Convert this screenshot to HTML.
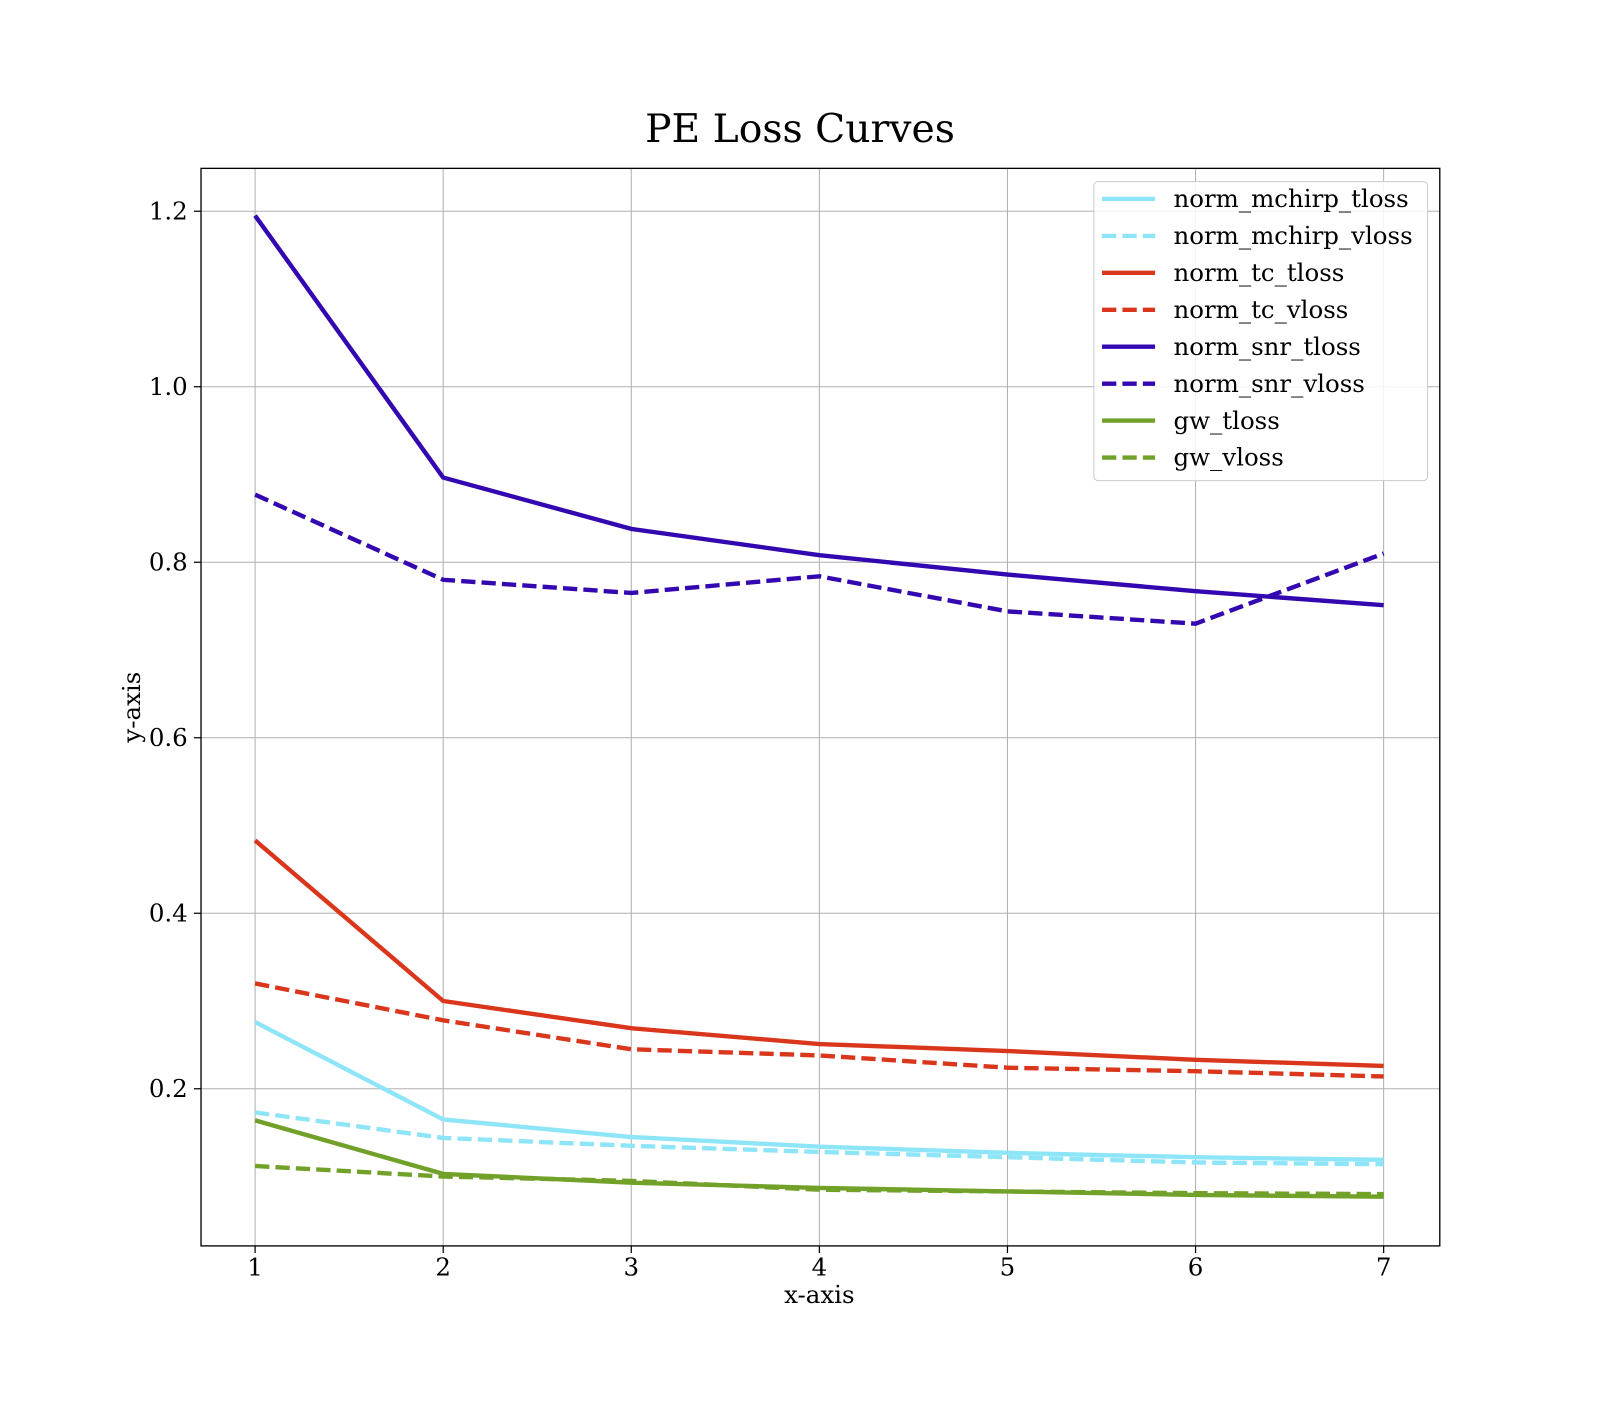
<!DOCTYPE html>
<html><head><meta charset="utf-8"><style>
body{margin:0;background:#fff;}
text{font-family:"DejaVu Serif","Liberation Serif",serif;fill:#000;}
</style></head><body>
<svg id="chart" width="1600" height="1400" xmlns="http://www.w3.org/2000/svg">
<rect width="1600" height="1400" fill="#fff"/>
<g transform="scale(1.0204)">
<text x="784" y="139" font-size="38.5" text-anchor="middle">PE Loss Curves</text>
<g id="grid"></g>
<g id="lines"></g>
<rect x="197" y="165" width="1214" height="1056" fill="none" stroke="#000" stroke-width="1.3"/>
<g id="ticks"></g>
<text x="803" y="1277" font-size="24" text-anchor="middle">x-axis</text>
<text transform="translate(137,693) rotate(-90)" font-size="24" text-anchor="middle">y-axis</text>
<g id="legend"></g>
</g>
</svg>
<script>
const epochs=[1,2,3,4,5,6,7];
const xTicks=[1,2,3,4,5,6,7];
const yTicks=[0.2,0.4,0.6,0.8,1.0,1.2];
const yTickLabels=["0.2","0.4","0.6","0.8","1.0","1.2"];
const seriesNames=["norm_mchirp_tloss","norm_mchirp_vloss","norm_tc_tloss","norm_tc_vloss","norm_snr_tloss","norm_snr_vloss","gw_tloss","gw_vloss"];
const mchirpT=[0.276,0.165,0.145,0.134,0.127,0.122,0.119];
const mchirpV=[0.173,0.144,0.135,0.128,0.122,0.116,0.114];
const tcT=[0.483,0.300,0.269,0.251,0.243,0.233,0.226];
const tcV=[0.320,0.278,0.245,0.238,0.224,0.220,0.214];
const snrT=[1.195,0.8965,0.838,0.808,0.786,0.767,0.751];
const snrV=[0.877,0.780,0.765,0.784,0.744,0.730,0.810];
const gwT=[0.164,0.103,0.093,0.087,0.083,0.079,0.077];
const gwV=[0.112,0.100,0.095,0.085,0.083,0.081,0.080];
const allSeries=[mchirpT,mchirpV,tcT,tcV,snrT,snrV,gwT,gwV];
const colors=["#8ee5f7","#8ee5f7","#d9361c","#d9361c","#3308b0","#3308b0","#72a12a","#72a12a"];
const dashed=[false,true,false,true,false,true,false,true];
const NS="http://www.w3.org/2000/svg";
const xs=v=>250+(v-1)*184.33;
const ys=v=>1239-v*860;
function mk(tag,attrs,parent){const e=document.createElementNS(NS,tag);for(const k in attrs)e.setAttribute(k,attrs[k]);parent.appendChild(e);return e;}
const grid=document.getElementById('grid'),ticks=document.getElementById('ticks'),lines=document.getElementById('lines'),legend=document.getElementById('legend');
xTicks.forEach(t=>{
 const g=mk('line',{x1:xs(t),x2:xs(t),y1:165,y2:1221,stroke:'#b0b0b0','stroke-width':1},grid);
 
 
 mk('line',{x1:xs(t),x2:xs(t),y1:1221,y2:1228,stroke:'#000','stroke-width':1.2},ticks);
 const tx=mk('text',{x:xs(t),y:1250,'font-size':24,'text-anchor':'middle'},ticks);
 tx.textContent=t;
 
 
});
yTicks.forEach((t,i)=>{
 const g=mk('line',{x1:197,x2:1411,y1:ys(t),y2:ys(t),stroke:'#b0b0b0','stroke-width':1},grid);
 
 
 mk('line',{x1:190,x2:197,y1:ys(t),y2:ys(t),stroke:'#000','stroke-width':1.2},ticks);
 const tx=mk('text',{x:184,y:ys(t)+8,'font-size':24,'text-anchor':'end'},ticks);
 tx.textContent=yTickLabels[i];
 
 
});
allSeries.forEach((s,i)=>{
 const p=mk('polyline',{points:s.map((v,j)=>xs(epochs[j])+','+ys(v)).join(' '),fill:'none',stroke:colors[i],'stroke-width':4.3,'stroke-linejoin':'round'},lines);
 if(dashed[i])p.setAttribute('stroke-dasharray','14 6');
 
 
});
const lb=mk('rect',{x:1072,y:178,width:327,height:293,rx:4,fill:'#fff','fill-opacity':0.85,stroke:'#ccc','stroke-width':1},legend);


seriesNames.forEach((n,i)=>{
 const y=195+i*36.2;
 const l=mk('line',{x1:1080,x2:1132,y1:y,y2:y,stroke:colors[i],'stroke-width':4.3},legend);
 if(dashed[i])l.setAttribute('stroke-dasharray','14 6');
 
 
 const t=mk('text',{x:1150,y:y+8,'font-size':24},legend);
 t.textContent=n;
 
 
});
</script>
</body></html>
